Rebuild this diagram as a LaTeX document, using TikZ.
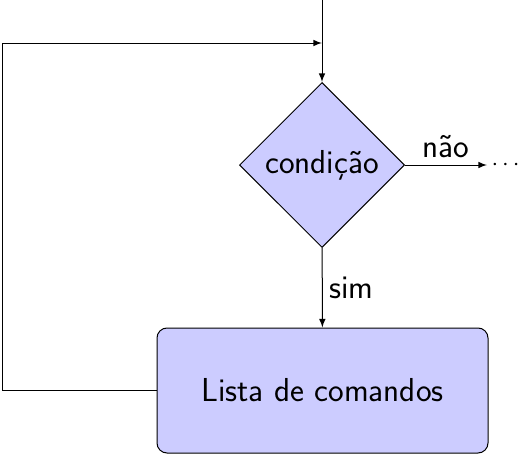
\documentclass[tikz,border=0pt]{standalone}
\usepackage{fontspec}
\usepackage{tikz}
\usetikzlibrary{shapes.geometric,positioning}

\begin{document}
\begin{tikzpicture}[
    x=0.5pt, y=-0.5pt, line width=0.5pt,
    every node/.style={font=\sffamily\fontsize{16.6}{20}\selectfont},
    decision/.style={diamond, draw, fill=blue!20, inner sep=0pt, minimum width=82.5pt, minimum height=82.5pt},
    block/.style={rectangle, draw, fill=blue!20, rounded corners=5pt, minimum width=165.5pt, minimum height=62.5pt},
    arrow/.style={->, >=latex}
]
\useasboundingbox (0,0) rectangle (521,455);

\coordinate (entrada) at (322,0);
\coordinate (retorno) at (322,43);
\coordinate (esq) at (2,390.5);
\coordinate (saida) at (487,165);

\node[decision] (cond) at (322,165) {condição};
\node[block] (lista) at (322.5,390.5) {Lista de comandos};
\node[right=0pt of saida, inner xsep=2pt, font=\fontsize{13}{15}\selectfont] (fim) {$\cdots$};

\draw[arrow] (entrada) -- (cond);
\draw[arrow] (cond) -- node[above] {não} (saida);
\draw[arrow] (cond) -- node[right] {sim} (lista);
\draw[arrow] (lista) -- (esq) |- (retorno);
\end{tikzpicture}
\end{document}
